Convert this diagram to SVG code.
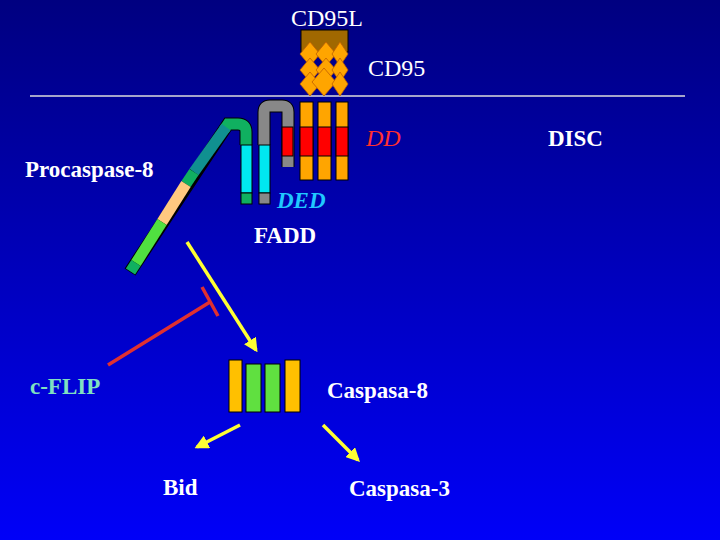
<svg xmlns="http://www.w3.org/2000/svg" width="720" height="540" viewBox="0 0 720 540">
<defs>
<linearGradient id="bg" x1="0" y1="0" x2="0" y2="1"><stop offset="0" stop-color="#000080"/><stop offset="1" stop-color="#0000f8"/></linearGradient>
<marker id="ah" viewBox="0 0 10 10" refX="8" refY="5" markerWidth="4" markerHeight="4" orient="auto"><path d="M0,0L10,5L0,10z" fill="#ffff33"/></marker>
<style>
.s{font-family:"Liberation Serif",serif;font-size:23px;font-weight:bold;fill:#fff}
.n{font-weight:normal;font-size:24px}
.b{stroke:#000;stroke-width:1}
.y{stroke:#ffff33;stroke-width:3.5;marker-end:url(#ah);fill:none}
</style>
</defs>
<rect width="720" height="540" fill="url(#bg)"/>
<line x1="30" y1="96" x2="685" y2="96" stroke="#ddd" stroke-width="1.5"/>
<g id="cd95l">
<rect class="b" x="301" y="30" width="47" height="22" fill="#a06800"/>
<g fill="#ffa500" stroke="#c06000" stroke-width="0.8">
<path d="M310,42l10,12l-10,12l-10,-12z"/><path d="M326,42l10,12l-10,12l-10,-12z"/><path d="M340,42l8,12l-8,12l-8,-12z"/>
<path d="M310,58l10,12l-10,12l-10,-12z"/><path d="M326,58l10,12l-10,12l-10,-12z"/><path d="M340,58l8,12l-8,12l-8,-12z"/>
<path d="M310,72l10,12l-10,12l-10,-12z"/><path d="M324,68l12,14l-12,14l-12,-14z"/><path d="M340,72l8,12l-8,12l-8,-12z"/>
</g>
</g>
<g id="cd95">
<g class="b"><rect x="300" y="102" width="13" height="78" fill="#ffa500"/><rect x="318" y="102" width="13" height="78" fill="#ffa500"/><rect x="336" y="102" width="12" height="78" fill="#ffa500"/>
<rect x="300" y="127" width="13" height="29" fill="#f00"/><rect x="318" y="127" width="13" height="29" fill="#f00"/><rect x="336" y="127" width="12" height="29" fill="#f00"/></g>
</g>
<g id="fadd">
<path d="M264,145V112Q264,106 270,106H282Q288,106 288,112V167" fill="none" stroke="#000" stroke-width="13"/>
<path d="M264,145V112Q264,106 270,106H282Q288,106 288,112V167" fill="none" stroke="#888" stroke-width="11"/>
<rect class="b" x="282" y="127" width="11" height="29" fill="#f00"/>
<rect class="b" x="259" y="145" width="11" height="48" fill="#00e8f0"/>
<rect class="b" x="259" y="193" width="11" height="11" fill="#888"/>
</g>
<g id="procaspase">
<path d="M246,145V132Q246,124 238,124H228L130,272" fill="none" stroke="#000" stroke-width="13"/>
<path d="M246,145V132Q246,124 238,124H228L224,130" fill="none" stroke="#10b060" stroke-width="11"/>
<line x1="226" y1="127" x2="194" y2="172" stroke="#109090" stroke-width="11"/>
<line x1="194" y1="172" x2="186" y2="184" stroke="#10b060" stroke-width="11"/>
<line x1="186" y1="184" x2="162" y2="222" stroke="#ffc880" stroke-width="11"/>
<line x1="162" y1="222" x2="136" y2="263" stroke="#50e040" stroke-width="11"/>
<line x1="136" y1="263" x2="130.5" y2="271.5" stroke="#10b060" stroke-width="11"/>
<rect class="b" x="241" y="145" width="11" height="48" fill="#00e8f0"/>
<rect class="b" x="241" y="193" width="11" height="11" fill="#10b060"/>
</g>
<g id="caspasa8">
<g class="b"><rect x="229" y="360" width="13" height="52" fill="#ffc000"/><rect x="246" y="364" width="15" height="48" fill="#60e040"/><rect x="265" y="364" width="15" height="48" fill="#60e040"/><rect x="285" y="360" width="15" height="52" fill="#ffc000"/></g>
</g>
<g id="connectors">
<line class="y" x1="187" y1="242" x2="256" y2="350"/>
<line class="y" x1="240" y1="425" x2="197" y2="447"/>
<line class="y" x1="323" y1="425" x2="358" y2="460"/>
<line x1="108" y1="365" x2="210" y2="302" stroke="#e03030" stroke-width="3.5"/>
<line x1="202" y1="287" x2="218" y2="316" stroke="#e03030" stroke-width="3.5"/>
</g>
<g id="labels">
<text class="s n" x="327" y="26" text-anchor="middle">CD95L</text>
<text class="s n" x="368" y="76">CD95</text>
<text class="s n" x="366" y="146" style="fill:#ff3030;font-style:italic">DD</text>
<text class="s" x="548" y="146">DISC</text>
<text class="s" x="25" y="177">Procaspase-8</text>
<text class="s" x="277" y="208" style="fill:#20c8ff;font-style:italic">DED</text>
<text class="s" x="254" y="243">FADD</text>
<text class="s" x="30" y="394" style="fill:#80e0c0">c-FLIP</text>
<text class="s" x="327" y="398">Caspasa-8</text>
<text class="s" x="163" y="495">Bid</text>
<text class="s" x="349" y="496">Caspasa-3</text>
</g>
</svg>
